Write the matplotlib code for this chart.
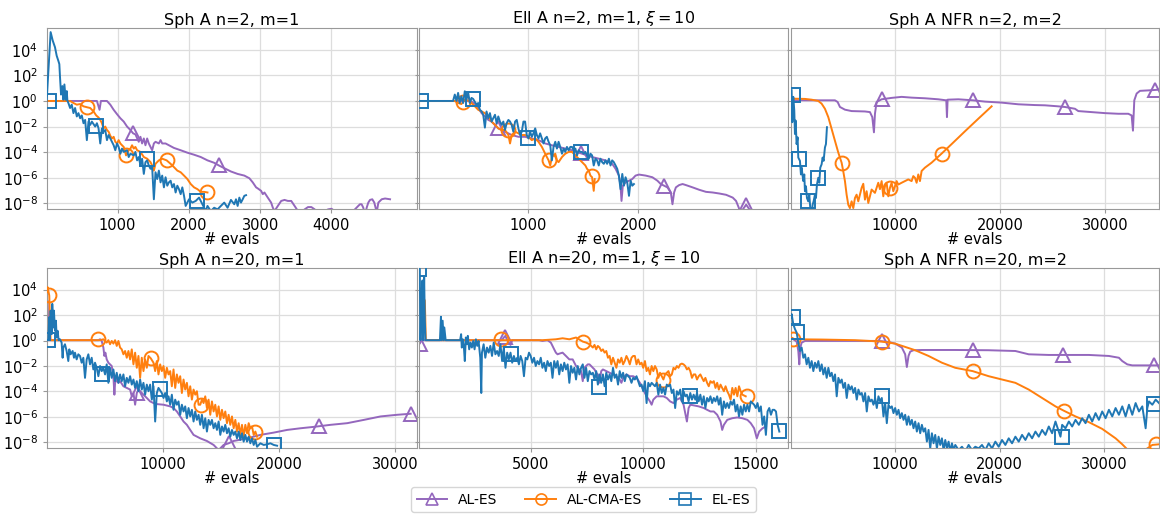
import numpy as np
import matplotlib
matplotlib.use("Agg")
import matplotlib.pyplot as plt
from matplotlib.lines import Line2D
from matplotlib.ticker import NullLocator

# ---------------- data: (evals, log10 value) ----------------
# Panel 1: Sph A n=2, m=1
al_sph2 = [(5,0),(710,0),(747,-0.69),(766,0),(851,0),(898,-0.29),(945,-0.69),(992,-1.03),(1039,-1.35),(1086,-1.61),
           (1133,-2.0),(1180,-2.27),(1218,-2.53),(1250,-2.61),(1297,-3.19),(1321,-2.8),(1344,-3.32),(1368,-2.93),(1391,-3.46),
           (1415,-2.93),(1438,-3.32),(1462,-3.59),(1485,-3.85),(1509,-3.32),(1532,-3.19),(1579,-3.32),(1603,-3.06),(1626,-3.32),
           (1673,-3.32),(1720,-3.46),(1791,-3.67),(1885,-3.85),(1979,-4.04),(2073,-4.2),(2167,-4.38),(2261,-4.64),(2355,-4.83),
           (2421,-5.04),(2496,-5.25),(2590,-5.51),(2684,-5.7),(2778,-5.83),(2849,-6.04),(2896,-6.36),(2943,-6.75),(2966,-6.83),
           (3013,-7.02),(3037,-7.28),(3060,-7.15),(3107,-7.55),(3154,-7.94),(3178,-8.34),(3201,-8.6),(3248,-8.2),(3295,-7.81),
           (3342,-7.73),(3389,-7.81),(3436,-7.81),(3483,-8.2),(3530,-8.6),(3577,-8.68),(3624,-8.47),(3671,-8.29),(3718,-8.29),
           (3765,-8.47),(3812,-8.73),(3906,-8.6),(3953,-8.47),(4000,-8.42),(4047,-8.6),(4094,-8.73),(4188,-8.73),(4282,-8.68),
           (4329,-8.47),(4376,-8.2),(4400,-8.07),(4423,-8.07),(4447,-8.34),(4470,-9.0),(4494,-8.34),(4517,-7.94),(4541,-7.73),
           (4573,-7.68),(4601,-7.94),(4635,-8.7),(4658,-7.94),(4705,-7.68),(4752,-7.62),(4822,-7.68)]
al_sph2_mk = [(1218,-2.53),(2421,-5.04)]
cma_sph2 = [(5,0),(334,0),(381,-0.16),(428,-0.29),(475,-0.24),(522,-0.42),(578,-0.5),(616,-0.55),(663,-0.82),(700,-1.13),
            (733,-1.29),(757,-1.48),(780,-1.74),(804,-2.14),(827,-2.0),(851,-2.27),(874,-2.4),(898,-2.72),(921,-2.93),
            (945,-2.8),(968,-3.19),(992,-3.32),(1015,-3.06),(1039,-3.32),(1062,-3.46),(1086,-3.59),(1119,-4.25),(1156,-3.85),
            (1180,-3.72),(1203,-3.46),(1227,-3.72),(1250,-3.59),(1274,-3.85),(1321,-3.98),(1368,-4.38),(1415,-4.51),
            (1462,-4.78),(1485,-5.04),(1509,-5.44),(1532,-4.91),(1579,-4.64),(1626,-4.51),(1688,-4.64),(1744,-4.91),
            (1791,-5.17),(1838,-5.44),(1885,-5.57),(1932,-5.83),(1979,-6.1),(2026,-6.49),(2073,-6.75),(2120,-6.89),
            (2167,-7.1),(2214,-7.1),(2261,-7.15)]
cma_sph2_mk = [(578,-0.5),(1119,-4.25),(1688,-4.64),(2261,-7.15)]
el_sph2 = [(5,0.0),(61,5.38),(90,4.72),(122,4.2),(146,3.53),(169,3.14),(183,2.88),(193,1.82),(207,0.5),(226,1.16),(240,0.1),
           (254,1.29),(273,0.1),(287,0.77),(296,0.03),(310,-0.16),(334,-0.55),(357,-0.29),(381,-0.95),(404,-0.55),(428,-1.21),
           (451,-0.95),(475,-1.35),(498,-1.13),(522,-1.74),(545,-1.48),(569,-3.06),(592,-1.61),(616,-1.87),(639,-1.61),
           (686,-2.0),(710,-1.74),(733,-2.14),(757,-3.32),(780,-2.14),(804,-2.4),(827,-2.27),(851,-3.06),(874,-2.66),
           (898,-2.93),(945,-3.46),(968,-3.85),(992,-3.32),(1015,-3.59),(1039,-4.12),(1062,-3.72),(1086,-3.98),(1133,-3.85),
           (1156,-4.38),(1180,-4.12),(1227,-4.25),(1250,-3.98),(1274,-4.64),(1297,-4.38),(1321,-5.04),(1344,-4.51),
           (1368,-5.7),(1391,-4.78),(1415,-4.64),(1438,-5.04),(1462,-5.3),(1485,-5.17),(1509,-7.68),(1532,-5.57),(1556,-6.1),
           (1579,-5.44),(1603,-6.36),(1626,-5.83),(1650,-6.75),(1673,-5.96),(1697,-6.62),(1720,-6.36),(1744,-6.23),
           (1767,-6.75),(1791,-6.49),(1814,-7.15),(1838,-6.62),(1861,-6.89),(1885,-7.28),(1908,-6.75),(1932,-7.41),
           (1955,-8.2),(2002,-7.68),(2049,-7.94),(2096,-7.81),(2143,-7.55),(2190,-8.07),(2237,-8.6),(2261,-8.2),(2308,-8.6),
           (2355,-8.34),(2402,-8.47),(2449,-8.2),(2496,-7.94),(2543,-8.34),(2590,-7.73),(2637,-8.07),(2661,-7.68),(2684,-8.2),
           (2708,-7.55),(2731,-7.94),(2755,-7.68),(2778,-7.41),(2802,-7.36)]
el_sph2_mk = [(43,0.0),(700,-1.93),(1415,-4.51),(2110,-7.81)]

# Panel 2: Ell A n=2, m=1, xi=10
al_ell2 = [(5,0),(421,0.0),(482,-0.03),(513,-0.24),(543,-0.55),(574,-0.95),(604,-1.21),(635,-1.48),(665,-1.61),(726,-2.14),
           (787,-2.4),(848,-2.66),(909,-2.8),(970,-2.8),(1031,-2.93),(1092,-3.06),(1153,-3.32),(1214,-3.46),(1275,-3.59),
           (1336,-3.72),(1397,-3.85),(1458,-4.04),(1519,-4.2),(1580,-4.38),(1641,-4.51),(1702,-4.64),(1763,-4.91),
           (1794,-5.3),(1824,-5.83),(1839,-6.62),(1848,-7.81),(1860,-6.62),(1885,-6.36),(1916,-6.23),(1946,-6.1),
           (1976,-5.83),(2007,-5.75),(2068,-5.83),(2129,-5.96),(2175,-6.23),(2205,-6.49),(2236,-6.62),(2266,-6.75),
           (2297,-7.15),(2312,-8.07),(2327,-7.15),(2343,-6.75),(2373,-6.57),(2404,-6.49),(2434,-6.57),(2495,-6.75),
           (2556,-6.94),(2617,-7.1),(2678,-7.15),(2739,-7.23),(2800,-7.33),(2861,-7.55),(2891,-7.81),(2916,-8.34),
           (2937,-9.0),(2953,-8.47),(2983,-8.1),(3013,-8.47),(3029,-9.0)]
al_ell2_mk = [(726,-2.14),(1482,-4.1),(2236,-6.62),(2983,-8.1)]
cma_ell2 = [(5,0),(330,0.0),(360,-0.16),(390,-0.24),(421,0.1),(452,0.03),(482,-0.16),(513,-0.42),(543,-0.69),(574,-0.82),
            (604,-0.95),(635,-1.21),(665,-1.61),(696,-1.87),(726,-2.14),(757,-2.27),(787,-2.27),(818,-2.66),(833,-3.32),
            (848,-2.66),(879,-2.4),(909,-2.53),(940,-2.66),(970,-2.66),(1001,-2.8),(1031,-3.06),(1062,-2.93),(1092,-3.19),
            (1123,-3.59),(1153,-4.12),(1184,-4.64),(1199,-5.04),(1214,-4.38),(1245,-4.12),(1260,-4.64),(1275,-4.78),
            (1306,-4.38),(1336,-4.12),(1367,-3.98),(1397,-3.98),(1428,-4.25),(1458,-4.51),(1489,-4.78),(1519,-5.04),
            (1534,-5.3),(1550,-5.44),(1565,-5.83),(1580,-5.96),(1595,-7.02),(1604,-6.1)]
cma_ell2_mk = [(406,-0.08),(811,-2.27),(1184,-4.64),(1580,-5.9)]
el_ell2 = [(5,0.0),(314,0.0),(330,0.5),(345,0.0),(360,0.63),(375,-0.16),(390,0.37),(406,-0.16),(421,0.76),(436,0.1),
           (452,0.63),(467,-0.16),(482,0.24),(497,0.16),(528,-0.29),(543,-0.16),(558,-0.69),(574,-0.82),(589,-1.08),
           (604,-2.08),(619,-0.82),(635,-1.35),(650,-0.95),(665,-1.61),(680,-1.35),(696,-1.08),(711,-1.74),(726,-1.21),
           (741,-1.61),(757,-1.87),(772,-1.61),(787,-2.27),(802,-1.74),(818,-1.48),(833,-1.61),(848,-1.87),(863,-2.4),
           (879,-1.61),(894,-1.48),(909,-2.14),(924,-2.66),(940,-2.4),(955,-1.61),(970,-1.61),(985,-2.66),(1001,-2.93),
           (1016,-2.4),(1031,-2.8),(1046,-2.53),(1062,-2.14),(1077,-2.66),(1092,-2.93),(1107,-2.53),(1123,-2.93),
           (1138,-3.32),(1153,-2.93),(1168,-2.8),(1184,-3.19),(1199,-3.46),(1214,-4.64),(1229,-3.59),(1245,-3.19),
           (1260,-3.72),(1275,-3.19),(1290,-3.59),(1306,-4.12),(1321,-3.72),(1336,-3.98),(1351,-3.59),(1367,-3.85),
           (1382,-3.59),(1397,-3.59),(1412,-3.85),(1428,-3.72),(1443,-4.25),(1458,-3.85),(1473,-3.98),(1489,-3.98),
           (1504,-4.12),(1519,-3.98),(1534,-4.25),(1550,-4.51),(1565,-4.12),(1580,-4.25),(1595,-5.04),(1611,-4.51),
           (1626,-4.64),(1641,-5.04),(1656,-4.51),(1672,-4.78),(1687,-4.91),(1702,-4.64),(1717,-4.91),(1733,-4.51),
           (1748,-5.04),(1763,-4.64),(1778,-4.78),(1794,-5.04),(1809,-5.3),(1824,-5.83),(1839,-6.89),(1855,-5.7),
           (1870,-6.62),(1885,-5.96),(1900,-6.36),(1916,-7.41),(1931,-6.23),(1946,-6.62),(1961,-6.49)]
el_ell2_mk = [(25,0.0),(497,0.16),(994,-2.88),(1482,-3.98)]

# Panel 3: Sph A NFR n=2, m=2
al_nfr2 = [(158,0.05),(2698,0.05),(4286,0.05),(4540,-0.08),(4762,-0.47),(5238,-0.68),(5873,-0.79),(7143,-0.82),
           (7619,-0.87),(7842,-1.26),(8000,-2.45),(8096,-1.0),(8254,-0.08),(8730,0.13),(9683,0.24),(10636,0.32),
           (11588,0.26),(12858,0.21),(14128,0.13),(14890,0.05),(14954,-1.26),(15017,0.1),(16033,0.13),(17462,0.05),
           (18573,-0.05),(20161,-0.13),(21748,-0.26),(23336,-0.32),(24288,-0.34),(25558,-0.42),(26193,-0.47),
           (27146,-0.61),(27463,-0.79),(28733,-0.87),(30003,-0.95),(31273,-1.0),(32226,-1.0),(32543,-1.13),
           (32670,-2.32),(32797,0.05),(33020,0.58),(33337,0.79),(34448,0.84),(35242,0.89)]
al_nfr2_mk = [(8730,0.13),(17462,0.05),(26193,-0.47),(34767,0.86)]
cma_nfr2 = [(158,0.18),(1428,0.16),(2063,0.1),(2698,0.0),(3016,-0.21),(3333,-0.61),(3651,-1.26),(3968,-2.18),(4286,-3.11),
            (4603,-4.03),(4921,-4.82),(5079,-5.5),(5238,-6.26),(5397,-7.32),(5556,-8.11),(5714,-8.37),(5873,-7.84),
            (6032,-8.37),(6191,-7.58),(6349,-7.32),(6508,-7.84),(6826,-6.79),(6984,-6.47),(7143,-7.71),(7302,-7.05),
            (7461,-7.97),(7778,-6.92),(8096,-7.18),(8413,-6.39),(8572,-6.89),(8731,-6.26),(8889,-7.45),(9048,-6.66),
            (9207,-6.39),(9366,-7.45),(9524,-6.79),(9683,-6.39),(9842,-7.05),(10001,-6.66),(10159,-6.26),(10318,-6.53),
            (10636,-6.39),(10953,-6.26),(11271,-6.13),(11588,-6.26),(11747,-5.87),(11906,-6.0),(12064,-6.39),
            (12223,-5.74),(12382,-6.26),(12541,-5.47),(12858,-5.21),(13493,-4.82),(14446,-4.11),(15398,-3.37),
            (16668,-2.37),(17938,-1.39),(19208,-0.42)]
cma_nfr2_mk = [(4921,-4.82),(9524,-6.79),(14446,-4.11)]
el_nfr2 = [(158,0.84),(222,-1.66),(317,0.32),(412,-0.74),(476,-2.58),(539,-1.53),(634,-3.37),(730,-2.84),(793,-4.42),
           (952,-4.68),(1047,-5.74),(1111,-5.21),(1270,-6.26),(1365,-5.74),(1428,-7.05),(1523,-6.66),(1619,-7.58),
           (1746,-7.84),(1841,-7.32),(1936,-8.37),(2063,-8.9),(2158,-8.11),(2254,-7.84),(2381,-7.32),(2476,-7.58),
           (2571,-6.53),(2698,-6.0),(2793,-6.39),(2889,-5.21),(3016,-4.95),(3111,-4.42),(3206,-4.68),(3333,-3.63),
           (3428,-3.37),(3524,-2.05)]
el_nfr2_mk = [(317,0.45),(857,-4.5),(1746,-7.84),(2698,-6.0)]

# Panel 4: Sph A n=20, m=1
al_sph20 = [(20,3.01),(71,3.14),(158,0.03),(4446,0.03),(4590,0.1),(4734,-0.03),(4878,-0.55),(4964,-1.21),(5050,-0.95),
            (5165,-1.48),(5309,-1.74),(5453,-1.87),(5597,-2.0),(5741,-2.8),(5827,-4.25),(5914,-2.93),(6029,-3.19),
            (6173,-3.32),(6317,-3.19),(6604,-3.59),(6892,-3.72),(7180,-3.85),(7324,-4.38),(7468,-4.12),(7612,-5.04),
            (7756,-4.12),(7900,-3.85),(8043,-3.98),(8331,-4.25),(8619,-4.51),(8907,-4.78),(9195,-4.91),(9482,-4.99),
            (10058,-5.04),(10634,-5.17),(10921,-5.3),(11209,-5.57),(11497,-5.96),(11785,-6.36),(12073,-6.62),
            (12360,-7.02),(12648,-7.41),(13224,-7.68),(13799,-7.89),(14375,-8.2),(14807,-8.6),(15238,-8.2),
            (15670,-8.07),(16102,-7.89),(17253,-7.68),(18404,-7.41),(19556,-7.23),(20707,-7.02),(21858,-6.89),
            (23009,-6.78),(24448,-6.62),(25887,-6.49),(27326,-6.23),(28765,-5.96),(30204,-5.83),(31355,-5.75)]
al_sph20_mk = [(7756,-4.12),(15670,-8.07),(23440,-6.74),(31355,-5.75)]
cma_sph20 = [(20,3.8),(71,4.2),(215,3.54),(330,0.03),(4302,0.03),(4590,0.03),(4878,0.1),(5165,-0.16),(5309,0.03),
             (5453,-0.29),(5597,-0.03),(5741,-0.24),(5885,0.03),(6029,-0.42),(6173,-0.03),(6317,-0.55),(6461,-0.69),
             (6604,-1.08),(6748,-0.82),(6892,-1.35),(7036,-0.82),(7180,-1.48),(7324,-0.69),(7468,-1.87),(7612,-0.95),
             (7756,-2.14),(7900,-1.21),(8043,-2.93),(8187,-1.35),(8331,-2.4),(8475,-1.48),(8619,-2.14),(8763,-1.21),
             (8965,-1.4),(9195,-1.74),(9339,-2.4),(9482,-1.61),(9626,-2.66),(9770,-1.87),(9914,-2.4),(10058,-2.0),
             (10202,-2.93),(10346,-2.14),(10490,-2.66),(10634,-2.4),(10777,-3.59),(10921,-2.27),(11065,-3.72),
             (11209,-2.66),(11353,-3.32),(11497,-2.8),(11641,-4.12),(11785,-3.06),(11929,-3.85),(12073,-3.32),
             (12216,-4.38),(12360,-3.59),(12504,-4.64),(12648,-3.85),(12792,-4.25),(12936,-3.98),(13080,-5.04),
             (13224,-5.04),(13368,-4.64),(13512,-4.91),(13655,-4.38),(13799,-5.3),(13943,-4.64),(14087,-5.83),
             (14231,-4.78),(14375,-5.57),(14519,-5.04),(14663,-5.96),(14807,-5.17),(14951,-6.23),(15095,-5.44),
             (15238,-6.1),(15382,-5.57),(15526,-6.49),(15670,-5.83),(15814,-6.62),(15958,-5.96),(16102,-6.89),
             (16246,-6.23),(16390,-7.15),(16534,-6.49),(16678,-7.41),(16821,-6.62),(16965,-7.55),(17109,-6.62),
             (17253,-7.28),(17397,-6.49),(17541,-6.89),(17685,-6.75),(17829,-7.41),(17973,-7.15),(18117,-7.55)]
cma_sph20_mk = [(215,3.54),(4446,0.1),(8965,-1.4),(13282,-5.04),(17973,-7.15)]
el_sph20 = [(20,0.03),(129,0.03),(215,1.82),(273,0.03),(330,2.35),(417,0.5),(474,2.88),(561,1.03),(618,2.35),(705,0.77),
            (791,1.56),(848,0.24),(935,0.77),(1021,0.03),(1136,0.1),(1280,-0.16),(1366,-1.35),(1424,-0.55),(1568,-0.29),
            (1712,-0.82),(1856,-1.61),(1942,-0.69),(2057,-1.08),(2230,-0.82),(2345,-1.35),(2431,-0.95),(2575,-1.48),
            (2719,-1.08),(2863,-1.21),(3007,-1.74),(3151,-1.35),(3295,-2.93),(3439,-1.48),(3583,-1.08),(3726,-1.87),
            (3870,-1.35),(4014,-2.27),(4158,-1.74),(4302,-2.14),(4446,-2.8),(4590,-2.0),(4734,-2.4),(4878,-2.14),
            (5022,-2.66),(5165,-1.87),(5309,-3.32),(5453,-2.14),(5597,-2.93),(5741,-2.27),(5885,-3.19),(6029,-2.53),
            (6173,-3.32),(6317,-2.66),(6461,-3.19),(6604,-2.66),(6748,-3.59),(6892,-2.93),(7036,-3.32),(7180,-2.8),
            (7324,-3.46),(7468,-3.06),(7612,-3.72),(7756,-3.19),(7900,-3.98),(8043,-3.06),(8187,-3.85),(8331,-3.32),
            (8475,-4.25),(8619,-3.46),(8763,-3.98),(8907,-3.46),(9051,-4.64),(9195,-3.59),(9339,-6.36),(9482,-4.12),
            (9626,-3.72),(9914,-4.12),(10058,-4.51),(10202,-4.12),(10346,-4.78),(10490,-4.38),(10634,-5.04),
            (10777,-4.25),(10921,-5.44),(11065,-4.64),(11209,-5.04),(11353,-4.78),(11497,-5.83),(11641,-5.04),
            (11785,-5.57),(11929,-5.17),(12073,-6.1),(12216,-5.3),(12360,-5.96),(12504,-5.44),(12648,-6.36),
            (12792,-5.57),(12936,-6.23),(13080,-5.83),(13224,-6.62),(13368,-5.83),(13512,-6.89),(13655,-6.1),
            (13799,-7.15),(13943,-6.23),(14087,-6.62),(14231,-6.23),(14375,-6.89),(14519,-6.49),(14663,-7.02),
            (14807,-6.36),(14951,-7.41),(15095,-6.75),(15238,-7.15),(15382,-6.62),(15526,-7.28),(15670,-6.89),
            (15814,-7.55),(15958,-7.02),(16102,-7.41),(16246,-7.15),(16390,-7.68),(16534,-7.15),(16678,-7.81),
            (16821,-7.28),(16965,-7.94),(17109,-7.41),(17253,-7.94),(17397,-7.55),(17541,-8.07),(17685,-7.68),
            (17829,-8.2),(17973,-7.81),(18117,-8.34),(18404,-8.07),(18692,-8.2),(18980,-8.15),(19268,-8.07),
            (19556,-8.2),(19844,-8.26)]
el_sph20_mk = [(129,0.03),(4734,-2.66),(9770,-3.77),(19556,-8.2)]

# Panel 5: Ell A n=20, m=1, xi=10
al_ell20 = [(40,0.03),(75,-0.24),(150,0.03),(3732,0.03),(3806,0.24),(3881,0.37),(3955,0.03),(4030,-0.16),(4105,-0.34),
            (4179,0.03),(5373,0.03),(5523,-0.03),(5746,0.03),(5896,-0.16),(5970,-0.42),(6045,-0.69),(6120,-0.95),
            (6194,-1.08),(6269,-1.03),(6418,-0.95),(6567,-1.21),(6717,-1.48),(6866,-1.48),(7015,-2.0),(7164,-2.27),
            (7239,-2.4),(7314,-3.19),(7388,-2.14),(7463,-2.0),(7537,-1.87),(7612,-1.87),(7687,-2.0),(7761,-2.14),
            (7836,-2.27),(7911,-2.53),(7985,-2.66),(8060,-3.32),(8134,-2.4),(8209,-2.27),(8358,-2.4),(8508,-2.53),
            (8657,-2.66),(8806,-2.8),(8955,-3.06),(9030,-3.32),(9105,-2.93),(9254,-2.66),(9403,-2.8),(9552,-2.8),
            (9702,-2.93),(9851,-3.32),(10000,-3.85),(10149,-4.38),(10299,-4.78),(10373,-5.04),(10448,-4.64),
            (10597,-4.38),(10746,-4.38),(10896,-4.38),(11045,-4.51),(11194,-4.78),(11343,-4.91),(11493,-4.64),
            (11642,-4.51),(11791,-5.04),(11940,-6.36),(12015,-5.3),(12090,-5.04),(12239,-5.09),(12463,-5.17),
            (12687,-5.3),(12836,-5.44),(12985,-5.57),(13134,-5.57),(13284,-5.83),(13433,-6.36),(13507,-7.02),
            (13582,-6.62),(13731,-6.23),(13955,-6.1),(14179,-6.04),(14403,-6.1),(14627,-6.23),(14776,-6.49),
            (14925,-6.89),(15045,-7.68),(15149,-7.15),(15298,-6.89),(15448,-6.75)]
al_ell20_mk = [(75,-0.24),(3851,0.3)]
cma_ell20 = [(40,4.2),(150,3.93),(224,3.4),(299,3.14),(344,0.03),(5523,0.03),(6120,0.1),(6418,0.18),(6717,0.1),
             (7015,0.24),(7314,-0.08),(7463,-0.16),(7612,-0.29),(7761,-0.55),(7836,-0.34),(7911,-0.69),(7985,-0.42),
             (8060,-0.55),(8134,-0.82),(8209,-0.69),(8284,-0.95),(8358,-0.82),(8433,-1.35),(8508,-1.21),(8582,-1.87),
             (8657,-1.35),(8731,-1.74),(8806,-2.14),(8881,-1.48),(8955,-1.74),(9030,-1.35),(9105,-1.87),(9179,-1.61),
             (9254,-1.21),(9328,-1.48),(9403,-1.87),(9478,-1.35),(9552,-1.21),(9627,-1.21),(9702,-1.87),(9776,-1.48),
             (9851,-1.87),(9925,-1.74),(10000,-2.14),(10075,-1.61),(10149,-2.4),(10224,-2.14),(10299,-2.66),
             (10373,-2.0),(10448,-2.4),(10522,-2.0),(10597,-2.27),(10672,-2.93),(10746,-2.53),(10896,-3.06),
             (10970,-2.66),(11045,-2.53),(11119,-2.4),(11194,-2.8),(11269,-2.66),(11343,-2.14),(11418,-2.27),
             (11493,-2.0),(11567,-2.14),(11642,-1.87),(11716,-1.81),(11791,-1.87),(11866,-2.0),(11940,-2.27),
             (12015,-2.14),(12090,-2.4),(12164,-2.93),(12239,-2.66),(12313,-2.66),(12388,-3.06),(12463,-2.8),
             (12537,-2.66),(12612,-2.93),(12687,-3.19),(12761,-2.93),(12836,-3.32),(12910,-3.59),(12985,-3.19),
             (13060,-3.32),(13134,-3.19),(13209,-3.72),(13284,-3.32),(13358,-3.85),(13433,-3.46),(13507,-3.72),
             (13582,-3.98),(13657,-3.59),(13731,-3.98),(13806,-4.25),(13881,-4.64),(13955,-3.72),(14030,-4.25),
             (14104,-3.72),(14179,-4.38),(14254,-3.59),(14328,-3.98),(14403,-4.25),(14552,-4.38)]
cma_ell20_mk = [(3701,0.1),(7314,-0.08),(10896,-3.06),(14597,-4.38)]
el_ell20 = [(30,5.65),(75,5.65),(105,0.03),(150,3.14),(194,4.72),(224,0.03),(269,4.99),(299,1.56),(329,0.03),(970,0.03),
            (1015,1.87),(1045,0.03),(1090,1.56),(1135,0.03),(1164,1.03),(1224,0.03),(1866,0.03),(1911,0.5),(1941,-0.55),
            (1985,0.1),(2030,-0.42),(2075,-1.61),(2120,0.24),(2164,-0.29),(2209,0.37),(2269,-0.69),(2329,-0.16),
            (2388,-0.55),(2448,-0.03),(2508,-0.69),(2567,0.1),(2627,-0.42),(2687,-0.03),(2761,-1.35),(2806,-4.12),
            (2836,-0.95),(2911,-0.29),(2985,-1.35),(3060,-0.55),(3135,-0.95),(3209,-0.42),(3284,-1.21),(3358,-0.16),
            (3433,-1.08),(3508,-0.82),(3582,-1.21),(3657,-0.29),(3732,-1.61),(3806,-0.55),(3881,-2.14),(3955,-0.95),
            (4030,-1.48),(4105,-0.95),(4179,-1.74),(4254,-1.21),(4329,-1.61),(4403,-1.35),(4478,-1.87),(4552,-1.21),
            (4627,-1.61),(4702,-2.8),(4776,-1.35),(4851,-1.48),(4926,-0.95),(5000,-1.21),(5075,-1.74),(5149,-1.35),
            (5224,-2.0),(5299,-1.61),(5373,-1.87),(5448,-1.35),(5523,-2.14),(5597,-1.74),(5672,-2.4),(5746,-1.61),
            (5821,-2.0),(5896,-1.74),(5970,-2.93),(6045,-1.61),(6120,-2.14),(6194,-1.61),(6269,-2.66),(6343,-1.87),
            (6418,-2.4),(6493,-1.74),(6567,-2.27),(6642,-1.87),(6717,-3.32),(6791,-2.0),(6866,-2.53),(6940,-2.14),
            (7015,-3.06),(7090,-2.0),(7164,-2.66),(7239,-2.14),(7314,-1.87),(7388,-2.93),(7463,-2.14),(7537,-3.19),
            (7612,-2.4),(7687,-2.66),(7761,-2.53),(7836,-3.06),(7911,-2.4),(7985,-3.46),(8060,-2.66),(8134,-3.32),
            (8209,-2.66),(8284,-3.59),(8358,-2.53),(8433,-3.06),(8508,-2.66),(8582,-3.19),(8657,-2.14),(8731,-2.93),
            (8806,-2.66),(8881,-3.46),(8955,-2.4),(9030,-2.93),(9105,-2.53),(9179,-3.19),(9254,-2.66),(9328,-2.8),
            (9403,-2.93),(9478,-3.32),(9552,-2.93),(9627,-3.06),(9702,-2.8),(9776,-3.19),(9851,-3.59),(9925,-3.46),
            (10000,-3.98),(10075,-3.19),(10149,-4.91),(10224,-3.32),(10299,-3.59),(10373,-3.32),(10448,-3.46),
            (10522,-3.59),(10597,-3.32),(10672,-4.25),(10746,-3.46),(10821,-4.12),(10896,-3.72),(10970,-4.25),
            (11045,-3.46),(11119,-3.59),(11194,-3.46),(11269,-4.12),(11343,-3.85),(11418,-5.3),(11493,-3.98),
            (11567,-4.25),(11642,-3.85),(11716,-4.78),(11791,-3.98),(11866,-4.38),(11940,-4.25),(12015,-4.78),
            (12090,-4.12),(12164,-4.64),(12239,-4.25),(12313,-4.64),(12388,-4.12),(12463,-4.78),(12537,-4.25),
            (12612,-5.04),(12687,-4.38),(12761,-5.3),(12836,-4.51),(12910,-4.78),(12985,-4.38),(13060,-4.91),
            (13134,-4.51),(13209,-4.78),(13284,-4.38),(13358,-5.04),(13433,-4.51),(13507,-5.83),(13582,-4.78),
            (13657,-5.3),(13731,-4.91),(13806,-5.3),(13881,-4.78),(13955,-5.04),(14030,-4.64),(14104,-5.57),
            (14179,-5.04),(14254,-5.96),(14328,-5.17),(14403,-5.83),(14478,-5.04),(14552,-5.57),(14627,-5.04),
            (14701,-5.57),(14776,-4.78),(14851,-4.91),(14925,-5.04),(15000,-5.3),(15075,-4.91),(15149,-5.57),
            (15224,-5.17),(15298,-6.62),(15373,-5.96),(15448,-7.41),(15522,-5.57),(15597,-5.3),(15672,-5.83),
            (15746,-5.44),(15821,-5.44),(15896,-5.57),(15970,-6.62),(16045,-7.15)]
el_ell20_mk = [(45,5.65),(4105,-1.08),(8030,-3.67),(12060,-4.33),(16015,-7.1)]

# Panel 6: Sph A NFR n=20, m=2
al_nfr20 = [(30,0.24),(240,0.1),(560,-0.08),(720,-0.82),(816,-1.87),(912,-0.55),(1040,-0.16),(1360,-0.03),(8400,-0.03),
            (9360,-0.11),(10000,-0.24),(10640,-0.55),(10960,-1.08),(11120,-2.08),(11280,-1.21),(11440,-0.87),
            (11760,-0.76),(12560,-0.74),(15760,-0.74),(18960,-0.76),(21520,-0.82),(22160,-0.95),(22800,-1.08),
            (24720,-1.13),(28560,-1.13),(30480,-1.21),(31440,-1.35),(31760,-1.61),(32240,-1.87),(32720,-1.95),
            (33680,-1.95),(35280,-1.95)]
al_nfr20_mk = [(8720,-0.03),(17424,-0.74),(26064,-1.13),(34800,-1.95)]
cma_nfr20 = [(30,0.24),(400,0.1),(2960,0.08),(6160,0.03),(8720,-0.08),(10000,-0.24),(10960,-0.5),(11920,-0.76),
             (13200,-1.21),(14480,-1.74),(15760,-2.14),(17424,-2.4),(18960,-2.8),(20240,-3.06),(21520,-3.32),
             (22800,-3.85),(24080,-4.51),(25360,-5.17),(26160,-5.51),(27280,-5.96),(28560,-6.41),(29840,-6.94),
             (31120,-7.68),(31760,-8.15),(32400,-8.68),(33040,-9.0),(33680,-8.75),(34160,-8.47),(34640,-8.2),
             (35280,-8.15)]
cma_nfr20_mk = [(208,0.16),(8720,-0.08),(17424,-2.4),(26160,-5.51),(34960,-8.15)]
el_nfr20 = [(30,1.82),(80,2.08),(240,1.29),(400,0.9),(560,0.63),(720,-0.16),(880,-0.82),(1040,-0.55),(1200,-1.35),
            (1360,-1.08),(1520,-1.87),(1680,-1.35),(1840,-2.14),(2000,-1.61),(2160,-2.4),(2320,-1.74),(2480,-2.14),
            (2640,-1.61),(2800,-2.4),(2960,-1.87),(3120,-2.66),(3280,-2.14),(3440,-2.93),(3600,-2.14),(3760,-2.8),
            (3920,-2.53),(4080,-3.19),(4240,-2.66),(4400,-4.38),(4560,-2.93),(4720,-3.32),(4880,-3.06),(5040,-3.72),
            (5200,-3.32),(5360,-4.51),(5520,-3.46),(5680,-3.85),(5840,-3.59),(6000,-4.12),(6160,-3.72),(6320,-4.64),
            (6480,-3.85),(6640,-4.25),(6800,-4.12),(6960,-4.78),(7120,-4.12),(7280,-5.57),(7440,-4.38),(7600,-4.78),
            (7760,-4.64),(7920,-5.04),(8080,-4.51),(8240,-5.3),(8400,-4.38),(8560,-4.78),(8720,-4.51),(8880,-5.96),
            (9040,-4.91),(9200,-6.49),(9360,-5.04),(9520,-5.3),(9680,-5.17),(9840,-5.7),(10000,-5.3),(10160,-5.83),
            (10320,-5.44),(10480,-6.1),(10640,-5.7),(10800,-6.23),(10960,-5.83),(11120,-6.62),(11280,-5.96),
            (11440,-6.62),(11600,-6.23),(11760,-6.89),(11920,-6.36),(12080,-7.15),(12240,-6.49),(12400,-7.28),
            (12560,-6.62),(12720,-7.15),(12880,-6.89),(13040,-7.94),(13200,-7.02),(13360,-8.47),(13520,-7.28),
            (13680,-8.07),(13840,-7.41),(14000,-8.47),(14160,-7.55),(14320,-8.2),(14480,-7.68),(14640,-8.6),
            (14800,-7.81),(14960,-8.47),(15120,-7.94),(15280,-8.73),(15440,-8.07),(15600,-8.6),(15760,-8.2),
            (16080,-8.6),(16400,-8.34),(16720,-8.73),(17040,-8.2),(17360,-8.6),(17680,-8.34),(18000,-8.47),
            (18320,-8.2),(18640,-8.6),(18960,-8.07),(19280,-8.47),(19600,-7.94),(19920,-8.34),(20240,-7.81),
            (20560,-8.2),(20880,-7.68),(21200,-8.07),(21520,-7.55),(21840,-7.94),(22160,-7.41),(22480,-7.81),
            (22800,-7.28),(23120,-7.68),(23440,-7.15),(23760,-7.55),(24080,-7.02),(24400,-7.41),(24720,-6.75),
            (25040,-7.28),(25360,-6.36),(25680,-7.15),(25840,-7.55),(26000,-6.62),(26320,-6.89),(26640,-6.36),
            (26960,-6.75),(27280,-6.23),(27600,-6.62),(27920,-6.1),(28240,-6.49),(28560,-5.83),(28880,-6.36),
            (29200,-5.7),(29520,-6.23),(29840,-5.57),(30160,-6.1),(30480,-5.44),(30800,-5.96),(31120,-5.3),
            (31440,-5.83),(31760,-5.17),(32080,-5.96),(32400,-5.04),(32720,-5.83),(33040,-4.91),(33360,-5.57),
            (33680,-5.17),(34000,-6.89),(34160,-5.3),(34320,-4.78),(34640,-5.04),(34960,-4.64),(35280,-4.91)]
el_nfr20_mk = [(240,1.82),(560,0.71),(8720,-4.33),(26000,-7.55),(34800,-4.99)]

titles = ["Sph A n=2, m=1", r"Ell A n=2, m=1, $\xi = 10$", "Sph A NFR n=2, m=2",
          "Sph A n=20, m=1", r"Ell A n=20, m=1, $\xi = 10$", "Sph A NFR n=20, m=2"]
xticks = [[1000, 2000, 3000, 4000], [1000, 2000], [10000, 20000, 30000],
          [10000, 20000, 30000], [5000, 10000, 15000], [10000, 20000, 30000]]
xlims = [(10, 5200), (4, 3364), (100, 35150), (20, 31900), (40, 16430), (20, 35280)]
yticks = [1e-8, 1e-6, 1e-4, 1e-2, 1e0, 1e2, 1e4]
labels = ["AL-ES", "AL-CMA-ES", "EL-ES"]

panels = [
    [(al_sph2, al_sph2_mk), (cma_sph2, cma_sph2_mk), (el_sph2, el_sph2_mk)],
    [(al_ell2, al_ell2_mk), (cma_ell2, cma_ell2_mk), (el_ell2, el_ell2_mk)],
    [(al_nfr2, al_nfr2_mk), (cma_nfr2, cma_nfr2_mk), (el_nfr2, el_nfr2_mk)],
    [(al_sph20, al_sph20_mk), (cma_sph20, cma_sph20_mk), (el_sph20, el_sph20_mk)],
    [(al_ell20, al_ell20_mk), (cma_ell20, cma_ell20_mk), (el_ell20, el_ell20_mk)],
    [(al_nfr20, al_nfr20_mk), (cma_nfr20, cma_nfr20_mk), (el_nfr20, el_nfr20_mk)],
]

# ---------------- styling ----------------
colors = ["#9467bd", "#ff7f0e", "#1f77b4"]
markers = ["^", "o", "s"]

fig = plt.figure(figsize=(11.6, 5.17), dpi=100)
lefts = [47 / 1160, 419 / 1160, 791 / 1160]
widths = [370 / 1160, 369 / 1160, 368 / 1160]
bottoms = [1 - 209 / 517, 1 - 448 / 517]
heights = [181 / 517, 180 / 517]

for i, series in enumerate(panels):
    r, c = divmod(i, 3)
    ax = fig.add_axes([lefts[c], bottoms[r], widths[c], heights[r]])
    ax.set_yscale("log")
    for k, (pts, mk) in enumerate(series):
        x, e = zip(*pts)
        ax.plot(x, 10 ** np.array(e), color=colors[k], lw=1.4, zorder=2 + k)
        if mk:
            mx, me = zip(*mk)
            ax.plot(mx, 10 ** np.array(me), ls="none", marker=markers[k], ms=10,
                    mfc="none", mec=colors[k], mew=1.4, zorder=2 + k)
    ax.set_ylim(10 ** -8.44, 10 ** 5.70)
    ax.set_xlim(*xlims[i])
    ax.set_yticks(yticks)
    ax.yaxis.set_minor_locator(NullLocator())
    ax.set_xticks(xticks[i])
    ax.grid(True, color="#dddddd", lw=0.9)
    ax.set_axisbelow(True)
    for s in ax.spines.values():
        s.set_color("#999999")
    ax.tick_params(colors="#999999", labelcolor="black", labelsize=10.5, length=3)
    if c > 0:
        ax.tick_params(labelleft=False)
    ax.set_title(titles[i], fontsize=11.5, pad=2.5)
    ax.set_xlabel("# evals", fontsize=10.5, labelpad=-1)

handles = [Line2D([0], [0], color=colors[k], marker=markers[k], ms=8, mfc="none",
                  mec=colors[k], mew=1.2, lw=1.4) for k in range(3)]
fig.legend(handles, labels, loc="lower center", ncol=3, bbox_to_anchor=(0.503, -0.004),
           fontsize=10, frameon=True, columnspacing=2.0, handlelength=2.2)

fig.savefig("out.png", dpi=100)
